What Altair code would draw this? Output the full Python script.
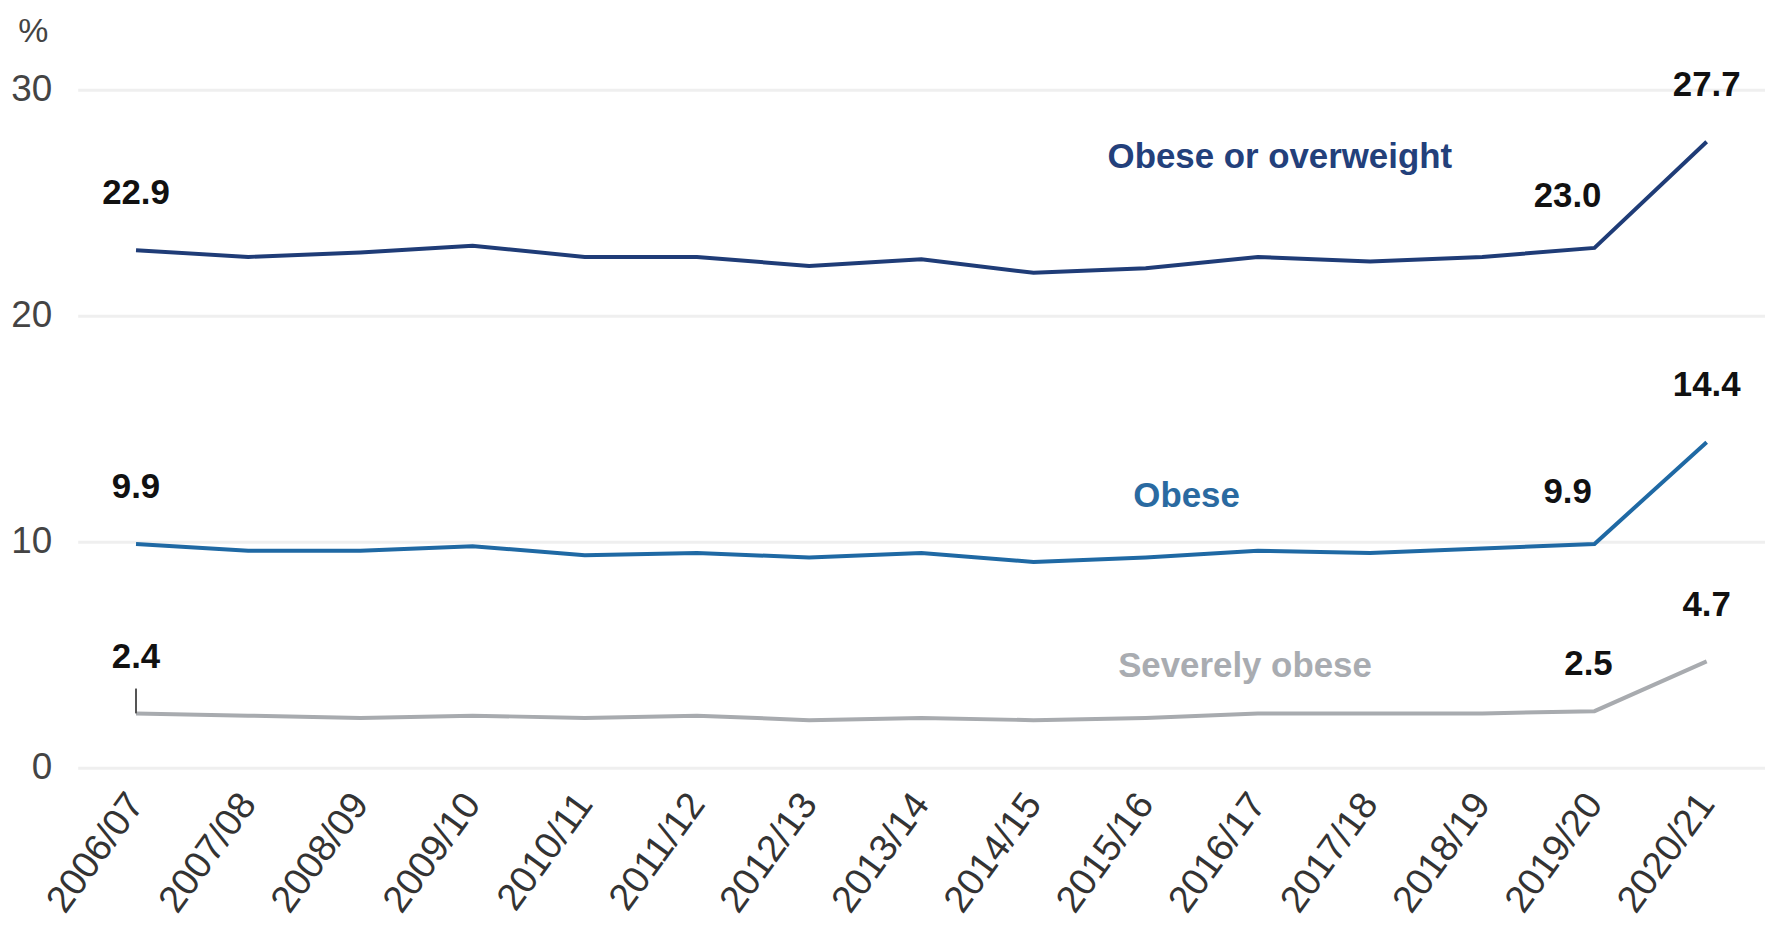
import altair as alt
import pandas as pd

years = ["2006/07", "2007/08", "2008/09", "2009/10", "2010/11", "2011/12", "2012/13",
         "2013/14", "2014/15", "2015/16", "2016/17", "2017/18", "2018/19", "2019/20", "2020/21"]
obese_or_overweight = [22.9, 22.6, 22.8, 23.1, 22.6, 22.6, 22.2, 22.5, 21.9, 22.1, 22.6, 22.4, 22.6, 23.0, 27.7]
obese = [9.9, 9.6, 9.6, 9.8, 9.4, 9.5, 9.3, 9.5, 9.1, 9.3, 9.6, 9.5, 9.7, 9.9, 14.4]
severely_obese = [2.4, 2.3, 2.2, 2.3, 2.2, 2.3, 2.1, 2.2, 2.1, 2.2, 2.4, 2.4, 2.4, 2.5, 4.7]
series_names = ["Obese or overweight", "Obese", "Severely obese"]
series_colors = ["#1f3c77", "#1f69a4", "#a8abaf"]
label_colors = ["#23407b", "#2a6aa1", "#a9acb1"]
y_ticks = [0, 10, 20, 30]

rows = []
for name, vals in zip(series_names, [obese_or_overweight, obese, severely_obese]):
    for i, (yr, v) in enumerate(zip(years, vals)):
        rows.append({"year": yr, "series": name, "value": v, "idx": i})
df = pd.DataFrame(rows)

# series name label placement (anchor year, value height, pixel nudge)
name_place = {
    "Obese or overweight": ("2016/17", 27.0, 22),
    "Obese": ("2015/16", 12.0, 41),
    "Severely obese": ("2016/17", 4.5, -13),
}

FONT = "Liberation Sans"

x = alt.X("year:N", sort=years,
          scale=alt.Scale(type="point", padding=0.52),
          axis=alt.Axis(title=None, labelAngle=-54, labelAlign="right", labelBaseline="middle",
                        labelFontSize=38, labelFont=FONT, labelColor="#333333", labelPadding=30,
                        ticks=False, domain=False, grid=False, labelOverlap=False))
y = alt.Y("value:Q",
          scale=alt.Scale(domain=[0, 30], nice=False, zero=True),
          axis=alt.Axis(values=y_ticks, title="%", titleAngle=0, titleX=-45, titleY=-58,
                        titleAlign="center", titleBaseline="middle", titleFont=FONT,
                        titleFontSize=34, titleFontWeight="normal", titleColor="#444444",
                        labelFont=FONT, labelFontSize=37, labelColor="#444444", labelPadding=26,
                        ticks=False, domain=False, gridColor="#efefef", gridWidth=3))
color = alt.Color("series:N", scale=alt.Scale(domain=series_names, range=series_colors), legend=None)

base = alt.Chart(df)
lines = base.mark_line(strokeWidth=4).encode(x=x, y=y, color=color)

txt = dict(font=FONT, fontSize=35, fontWeight="bold", color="#111111", baseline="middle", align="center")
ends = base.transform_filter("datum.idx == 0 || datum.idx == 14").mark_text(dy=-57, **txt).encode(
    x="year:N", y="value:Q", text=alt.Text("value:Q", format=".1f"))
prev = base.transform_filter("datum.idx == 13 && datum.series != 'Severely obese'").mark_text(
    dx=-27, dy=-52, **txt).encode(x="year:N", y="value:Q", text=alt.Text("value:Q", format=".1f"))
prev_s = base.transform_filter("datum.idx == 13 && datum.series == 'Severely obese'").mark_text(
    dx=-6, dy=-47, **txt).encode(x="year:N", y="value:Q", text=alt.Text("value:Q", format=".1f"))

name_layers = []
for name, col in zip(series_names, label_colors):
    yr, val, nudge = name_place[name]
    ndf = pd.DataFrame([{"year": yr, "value": val, "label": name}])
    name_layers.append(
        alt.Chart(ndf).mark_text(font=FONT, fontSize=35, fontWeight="bold", color=col,
                                 baseline="middle", align="center", dx=nudge)
        .encode(x="year:N", y="value:Q", text="label:N"))

leader_df = pd.DataFrame([{"year": years[0], "value": severely_obese[0]}])
leader = alt.Chart(leader_df).mark_rule(color="#555555", strokeWidth=2).encode(
    x="year:N", y="value:Q", y2=alt.datum(3.5))

chart = alt.layer(lines, leader, ends, prev, prev_s, *name_layers).properties(
    width=1695, height=681,
    autosize=alt.AutoSizeParams(type="none"),
    padding={"left": 70, "top": 80, "right": 0, "bottom": 160},
    background="white",
).configure_view(stroke=None)

chart.save("out.html", embed_options={"renderer": "svg", "actions": False})
